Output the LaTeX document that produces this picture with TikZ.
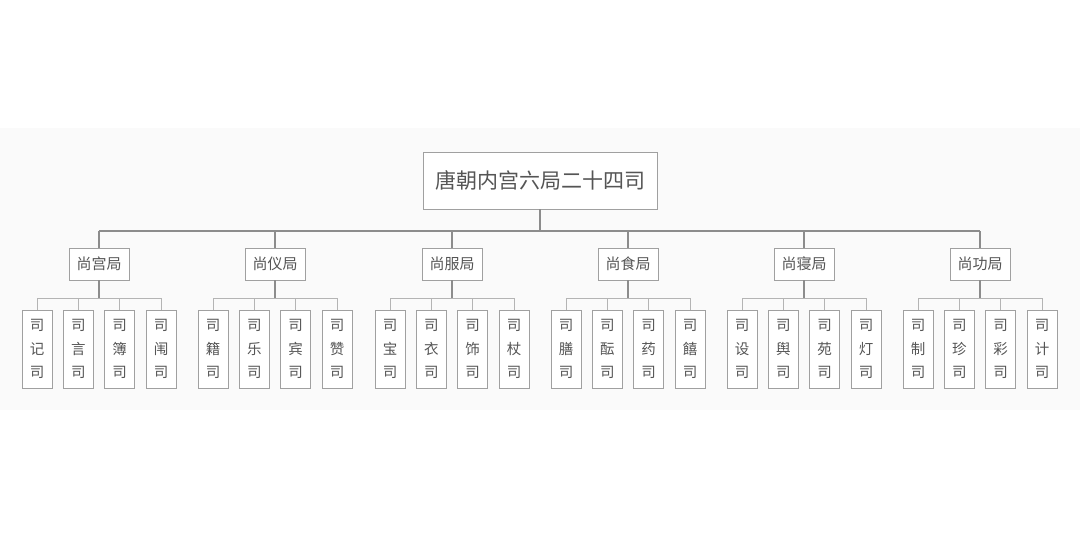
\documentclass[tikz,border=0pt]{standalone}
\usepackage{fontspec}
\setmainfont{Noto Sans CJK SC}
\newfontfamily\cjk{Noto Sans CJK SC}
\definecolor{bandc}{HTML}{FAFAFA}
\definecolor{boxline}{HTML}{A0A0A0}
\definecolor{busline}{HTML}{8C8C8C}
\definecolor{leafbus}{HTML}{B4B4B4}
\definecolor{txtc}{HTML}{555555}
\tikzset{
  px/.style={x=1pt,y=-1pt},
  basebox/.style={draw=boxline,fill=white,line width=0.9pt,text=txtc,inner sep=0pt,font=\cjk},
  topbox/.style={basebox,minimum width=234pt,minimum height=57pt,font=\cjk\fontsize{21}{25}\selectfont},
  midbox/.style={basebox,minimum width=60pt,minimum height=32pt,font=\cjk\fontsize{15}{18}\selectfont},
  leafbox/.style={basebox,minimum width=30pt,minimum height=78pt,align=center,font=\cjk\fontsize{14.5}{23.5}\selectfont},
  mainbus/.style={draw=busline,line width=1.1pt},
  subbus/.style={draw=leafbus,line width=0.9pt}
}
\begin{document}
\begin{tikzpicture}[px]
\useasboundingbox (0,0) rectangle (1080,540);
\fill[white] (0,0) rectangle (1080,540);
\fill[bandc] (0,128) rectangle (1080,410);
% top
\node[topbox] (top) at (540,180.5) {唐朝内宫六局二十四司};
\coordinate (busy) at (540,231);
% mid level
\node[midbox] (m1) at (99,264) {尚宫局};
\node[midbox] (m2) at (275,264) {尚仪局};
\node[midbox] (m3) at (452,264) {尚服局};
\node[midbox] (m4) at (628,264) {尚食局};
\node[midbox] (m5) at (804,264) {尚寝局};
\node[midbox] (m6) at (980,264) {尚功局};
\draw[mainbus] (top.south) -- (busy);
\draw[mainbus] (m1.north |- busy) -- (m6.north |- busy);
\foreach \i in {1,...,6} { \draw[mainbus] (m\i.north) -- (m\i.north |- busy); }
% leaves
\def\leafy{349}
\newcommand\leafgroup[6]{%
  \node[leafbox] (#1a) at ([xshift=-62pt]#2 |- 0,\leafy) {司\\#3\\司};
  \node[leafbox] (#1b) at ([xshift=-20.6pt]#2 |- 0,\leafy) {司\\#4\\司};
  \node[leafbox] (#1c) at ([xshift=20.6pt]#2 |- 0,\leafy) {司\\#5\\司};
  \node[leafbox] (#1d) at ([xshift=62pt]#2 |- 0,\leafy) {司\\#6\\司};
  \coordinate (#1bus) at (#2 |- 0,298);
  \draw[mainbus] (#2.south) -- (#1bus);
  \draw[subbus] (#1a.north |- #1bus) -- (#1d.north |- #1bus);
  \foreach \k in {a,b,c,d} { \draw[subbus] (#1\k.north) -- (#1\k.north |- #1bus); }
}
\leafgroup{g1}{m1}{记}{言}{簿}{闱}
\leafgroup{g2}{m2}{籍}{乐}{宾}{赞}
\leafgroup{g3}{m3}{宝}{衣}{饰}{杖}
\leafgroup{g4}{m4}{膳}{酝}{药}{饎}
\leafgroup{g5}{m5}{设}{舆}{苑}{灯}
\leafgroup{g6}{m6}{制}{珍}{彩}{计}
\end{tikzpicture}
\end{document}
